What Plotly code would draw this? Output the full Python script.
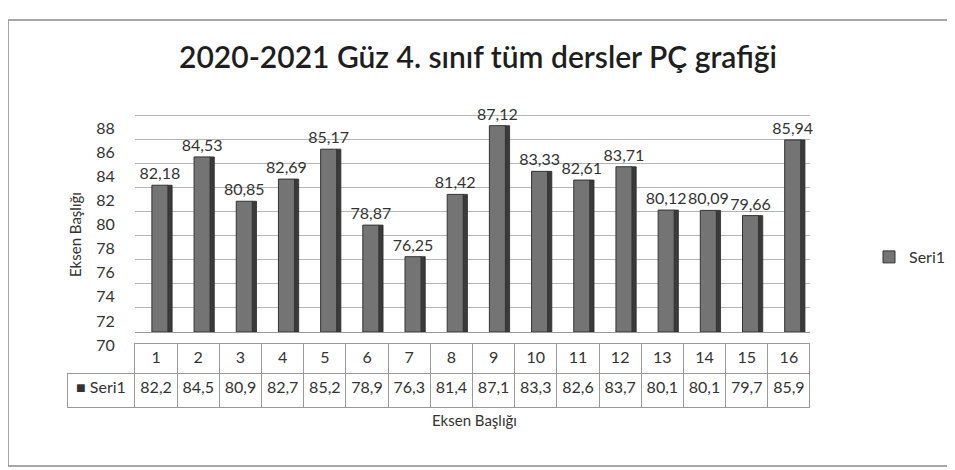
import plotly.graph_objects as go
from decimal import Decimal, ROUND_HALF_UP

categories = [str(i) for i in range(1, 17)]
seri1 = [82.18, 84.53, 80.85, 82.69, 85.17, 78.87, 76.25, 81.42,
         87.12, 83.33, 82.61, 83.71, 80.12, 80.09, 79.66, 85.94]
y_ticks = [70, 72, 74, 76, 78, 80, 82, 84, 86, 88]

title_text = "2020-2021 Güz 4. sınıf tüm dersler PÇ grafiği"
axis_title = "Eksen Başlığı"
series_name = "Seri1"

FONT = "Lato, 'Open Sans', sans-serif"
W, H = 955, 470
OFF = 8  # page body margin: figure is drawn 8px right/down in the window


def px(x):
    return (x - OFF) / W


def py(y):
    return 1 - (y - OFF) / H


def tr_fmt(v, nd):
    q = Decimal(str(v)).quantize(Decimal(1).scaleb(-nd), rounding=ROUND_HALF_UP)
    return str(q).replace(".", ",")


label_text = [tr_fmt(v, 2) for v in seri1]
table_text = [tr_fmt(v, 1) for v in seri1]

px_x0, px_x1 = 135, 810
px_ybot = 332          # window pixel row of value 70 (back wall)
px_per_unit = 12.05
y_top_val = 89
px_ytop = px_ybot - (y_top_val - 70) * px_per_unit

fig = go.Figure()
# side (depth) face of each bar
fig.add_trace(go.Bar(
    x=categories, y=[v - 70 for v in seri1], base=70,
    width=0.11, offset=0.27,
    marker=dict(color="#3a3a3a", line=dict(color="#2a2a2a", width=0.8)),
    showlegend=False, hoverinfo="skip"))
# front face
fig.add_trace(go.Bar(
    x=categories, y=[v - 70 for v in seri1], base=70,
    width=0.38, offset=-0.1,
    name=series_name,
    marker=dict(color="#747474", line=dict(color="#333333", width=1)),
    text=label_text, textposition="outside", constraintext="none",
    textfont=dict(family=FONT, size=16, color="#333333"),
    cliponaxis=False))

# data table under the plot
header_vals = [""] + categories
cell_vals = [["■\u00a0" + series_name]] + [[t] for t in table_text]
fig.add_trace(go.Table(
    domain=dict(x=[px(67), px(px_x1)], y=[py(408), py(343)]),
    columnwidth=[68] + [42.2] * 16,
    header=dict(values=header_vals, height=30, align="center",
                fill=dict(color=["rgba(0,0,0,0)"] + ["white"] * 16),
                line=dict(color=["rgba(0,0,0,0)"] + ["#9a9a9a"] * 16, width=1),
                font=dict(family=FONT, size=16, color="#333333")),
    cells=dict(values=cell_vals, height=34, align="center",
               fill=dict(color="white"),
               line=dict(color="#9a9a9a", width=1),
               font=dict(family=FONT, size=16, color="#333333"))))

fig.update_layout(
    width=W, height=H,
    margin=dict(l=0, r=0, t=0, b=0, autoexpand=False),
    paper_bgcolor="white", plot_bgcolor="white",
    barmode="overlay",
    font=dict(family=FONT, color="#333333"),
    title=dict(text=title_text, x=px(478), xanchor="center", y=py(57), yanchor="middle",
               font=dict(family=FONT, size=30, weight=600, color="#1e1e1e")),
    xaxis=dict(domain=[px(px_x0), px(px_x1)], type="category", automargin=False,
               showticklabels=False, showgrid=False, ticks="",
               showline=True, linecolor="#9a9a9a", range=[-0.5, 15.5]),
    yaxis=dict(domain=[py(px_ybot), py(px_ytop)], automargin=False,
               range=[70, y_top_val],
               tickvals=y_ticks, ticks="outside", ticklen=16, tickcolor="rgba(0,0,0,0)",
               ticklabelshift=13,
               tickfont=dict(family=FONT, size=16, color="#333333"),
               showgrid=True, gridcolor="#b5b5b5", gridwidth=1,
               zeroline=False, showline=False),
    legend=dict(x=px(869), y=py(257), xanchor="left", yanchor="middle",
                font=dict(family=FONT, size=16, color="#333333"),
                bgcolor="rgba(0,0,0,0)"),
    annotations=[
        dict(text=axis_title, xref="paper", yref="paper", x=px(75), y=py(235),
             textangle=-90, showarrow=False, xanchor="center", yanchor="middle",
             font=dict(family=FONT, size=15, color="#333333")),
        dict(text=axis_title, xref="paper", yref="paper", x=px(474), y=py(420),
             showarrow=False, xanchor="center", yanchor="middle",
             font=dict(family=FONT, size=15, color="#333333")),
    ],
    shapes=[dict(type="rect", xref="paper", yref="paper",
                 x0=px(8), x1=px(952), y0=py(466), y1=py(20),
                 line=dict(color="#8a8a8a", width=1.5), fillcolor="rgba(0,0,0,0)",
                 layer="below")],
)

fig.write_html("out.html")
